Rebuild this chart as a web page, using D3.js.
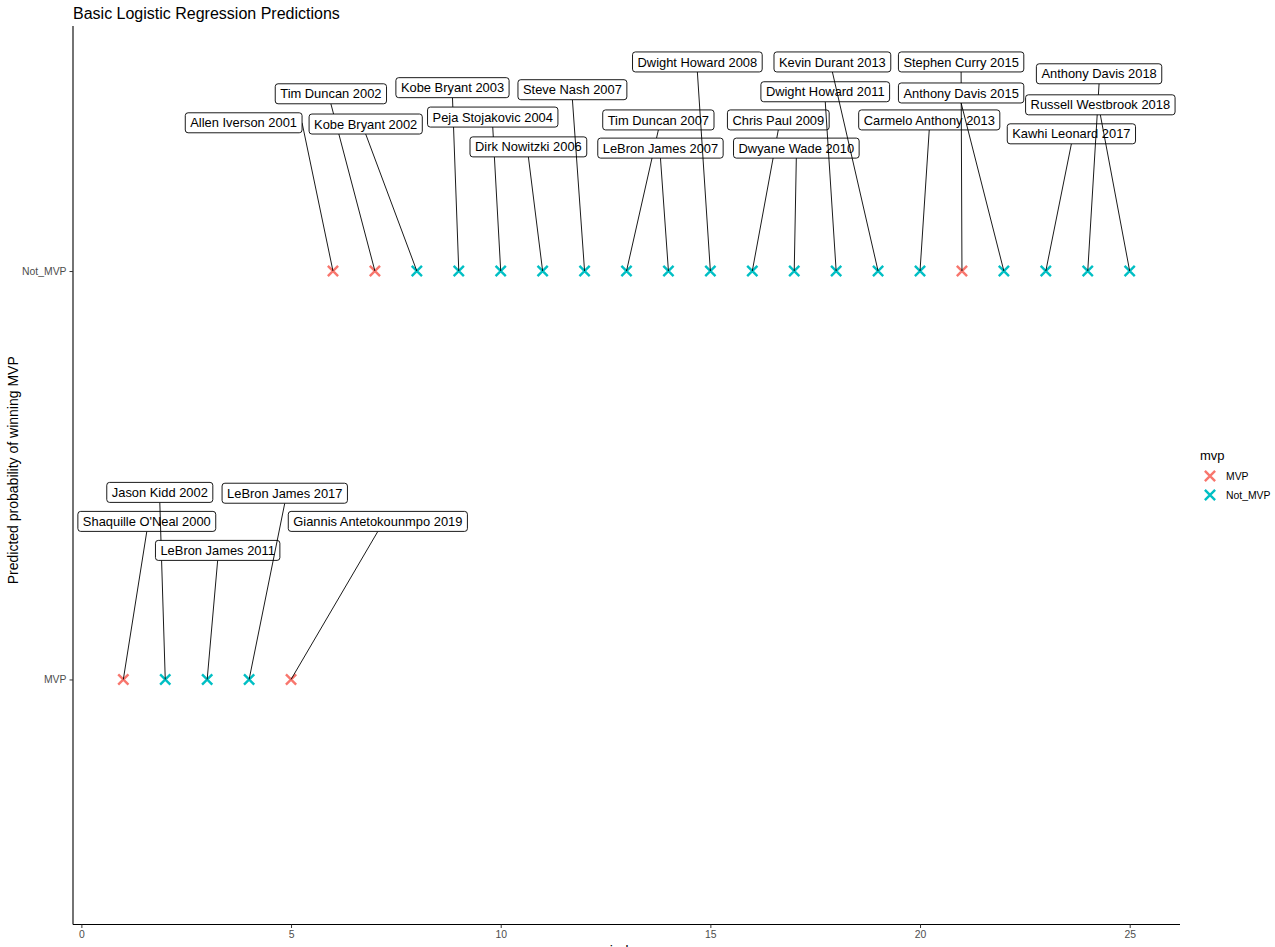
<!DOCTYPE html>
<html>
<head>
<meta charset="utf-8">
<script src="https://cdn.jsdelivr.net/npm/d3@7"></script>
<style>
  html, body { margin: 0; padding: 0; background: #fff; }
  svg { display: block; }
  text { font-family: "Liberation Sans", Arial, sans-serif; }
</style>
</head>
<body>
<svg id="chart" width="1275" height="947"></svg>
<script>
// ---------------- data ----------------
const indexValues = [1,2,3,4,5,6,7,8,9,10,11,12,13,14,15,16,17,18,19,20,21,22,23,24,25];
const players = [
  "Shaquille O'Neal 2000","Jason Kidd 2002","LeBron James 2011","LeBron James 2017","Giannis Antetokounmpo 2019",
  "Allen Iverson 2001","Tim Duncan 2002","Kobe Bryant 2002","Kobe Bryant 2003","Peja Stojakovic 2004",
  "Dirk Nowitzki 2006","Steve Nash 2007","Tim Duncan 2007","LeBron James 2007","Dwight Howard 2008",
  "Chris Paul 2009","Dwyane Wade 2010","Dwight Howard 2011","Kevin Durant 2013","Carmelo Anthony 2013",
  "Stephen Curry 2015","Anthony Davis 2015","Kawhi Leonard 2017","Anthony Davis 2018","Russell Westbrook 2018"
];
const predicted = [
  "MVP","MVP","MVP","MVP","MVP",
  "Not_MVP","Not_MVP","Not_MVP","Not_MVP","Not_MVP",
  "Not_MVP","Not_MVP","Not_MVP","Not_MVP","Not_MVP",
  "Not_MVP","Not_MVP","Not_MVP","Not_MVP","Not_MVP",
  "Not_MVP","Not_MVP","Not_MVP","Not_MVP","Not_MVP"
];
const actual = [
  "MVP","Not_MVP","Not_MVP","Not_MVP","MVP",
  "MVP","MVP","Not_MVP","Not_MVP","Not_MVP",
  "Not_MVP","Not_MVP","Not_MVP","Not_MVP","Not_MVP",
  "Not_MVP","Not_MVP","Not_MVP","Not_MVP","Not_MVP",
  "MVP","Not_MVP","Not_MVP","Not_MVP","Not_MVP"
];
// repelled label anchors (data units: x index, y level where MVP=1, Not_MVP=2)
const labelX = [1.56,1.87,3.25,4.85,7.07, 3.87,5.95,6.78,8.85,9.81, 10.66,11.71,13.76,13.81,14.69,
                16.62,17.05,17.74,17.91,20.22, 20.98,20.98,23.61,24.27,24.30];
const labelY = [1.387,1.458,1.316,1.456,1.387, 2.363,2.434,2.360,2.449,2.377, 2.304,2.444,2.370,2.301,2.512,
                2.370,2.301,2.439,2.512,2.370, 2.512,2.436,2.336,2.483,2.407];
const xTicks = [0,5,10,15,20,25];
const yLevels = ["Not_MVP","MVP"];
const legendLevels = ["MVP","Not_MVP"];
const colors = ["#F8766D","#00BFC4"];

// ---------------- layout ----------------
const svg = d3.select("#chart");
const panel = {left: 73, right: 1180, top: 26, bottom: 924.5};

const x = d3.scaleLinear().domain([-0.2, 26.2]).range([panel.left, panel.right]);
const y = d3.scalePoint().domain(yLevels).range([panel.top, panel.bottom]).padding(0.6);
const yCont = d3.scaleLinear().domain([1, 2]).range([y("MVP"), y("Not_MVP")]);
const color = d3.scaleOrdinal().domain(legendLevels).range(colors);

const rows = indexValues.map((v, i) => ({
  idx: v, name: players[i], pred: predicted[i], act: actual[i], lx: labelX[i], ly: labelY[i]
}));

// title
svg.append("text").attr("x", 73).attr("y", 18.5)
  .attr("font-size", 16).attr("fill", "#000").text("Basic Logistic Regression Predictions");

// axes
const xAxis = d3.axisBottom(x).tickValues(xTicks).tickSize(3.5).tickPadding(3);
const gx = svg.append("g").attr("transform", `translate(0,${panel.bottom})`).call(xAxis);
gx.select(".domain").attr("stroke", "#000").attr("stroke-width", 1.1)
  .attr("d", `M${panel.left},0H${panel.right}`);
gx.selectAll(".tick line").attr("stroke", "#333");
gx.selectAll(".tick text").attr("fill", "#4D4D4D").attr("font-size", 10.4)
  .style("font-family", "Liberation Sans, Arial, sans-serif");

const yAxis = d3.axisLeft(y).tickSize(3.5).tickPadding(3);
const gy = svg.append("g").attr("transform", `translate(${panel.left},0)`).call(yAxis);
gy.select(".domain").attr("stroke", "#000").attr("stroke-width", 1.1)
  .attr("d", `M0,${panel.top}V${panel.bottom}`);
gy.selectAll(".tick line").attr("stroke", "#333");
gy.selectAll(".tick text").attr("fill", "#4D4D4D").attr("font-size", 10.4)
  .style("font-family", "Liberation Sans, Arial, sans-serif");

// axis titles
svg.append("text").attr("transform", `translate(18,${(panel.top + panel.bottom) / 2 - 5}) rotate(-90)`)
  .attr("text-anchor", "middle").attr("font-size", 14).attr("fill", "#000")
  .text("Predicted probability of winning MVP");
svg.append("text").attr("x", (panel.left + panel.right) / 2).attr("y", 956)
  .attr("text-anchor", "middle").attr("font-size", 14).attr("fill", "#000").text("index");

// points
const sym = d3.symbol().type(d3.symbolX).size(70);
svg.append("g").selectAll("path").data(rows).join("path")
  .attr("transform", d => `translate(${x(d.idx)},${y(d.pred)})`)
  .attr("d", sym)
  .attr("fill", "none")
  .attr("stroke", d => color(d.act))
  .attr("stroke-width", 2.4);

// labels with segments (drawn per label, in data order, like ggrepel)
const labelLayer = svg.append("g");
const fontSize = 12.9, padX = 5, boxH = 20;
rows.forEach(d => {
  const g = labelLayer.append("g");
  const seg = g.append("line");
  const cx = x(d.lx), cy = yCont(d.ly);
  const rect = g.append("rect");
  const t = g.append("text").attr("x", cx).attr("y", cy + 4.6)
    .attr("text-anchor", "middle").attr("font-size", fontSize).attr("fill", "#000").text(d.name);
  const w = t.node().getComputedTextLength() + 2 * padX;
  const left = cx - w / 2, right = cx + w / 2, top = cy - boxH / 2, bottom = cy + boxH / 2;
  rect.attr("x", left).attr("y", top).attr("width", w).attr("height", boxH)
    .attr("rx", 2.8).attr("ry", 2.8).attr("fill", "#fff").attr("stroke", "#000").attr("stroke-width", 0.9);
  const px = x(d.idx), py = y(d.pred);
  // connection point: side midpoints of the box
  let sx, sy;
  if (px < left) { sx = left; sy = cy; }
  else if (px > right) { sx = right; sy = cy; }
  else { sx = cx; sy = py > cy ? bottom : top; }
  seg.attr("x1", sx).attr("y1", sy).attr("x2", px).attr("y2", py)
    .attr("stroke", "#000").attr("stroke-width", 0.9);
});

// legend
const lg = svg.append("g").attr("transform", "translate(1200,0)");
lg.append("text").attr("x", 0).attr("y", 460).attr("font-size", 13).attr("fill", "#000").text("mvp");
legendLevels.forEach((lv, i) => {
  const yy = 476 + i * 19;
  lg.append("path").attr("transform", `translate(10,${yy})`).attr("d", sym)
    .attr("fill", "none").attr("stroke", color(lv)).attr("stroke-width", 2.4);
  lg.append("text").attr("x", 26).attr("y", yy + 3.8).attr("font-size", 10.4).attr("fill", "#000").text(lv);
});
</script>
</body>
</html>
